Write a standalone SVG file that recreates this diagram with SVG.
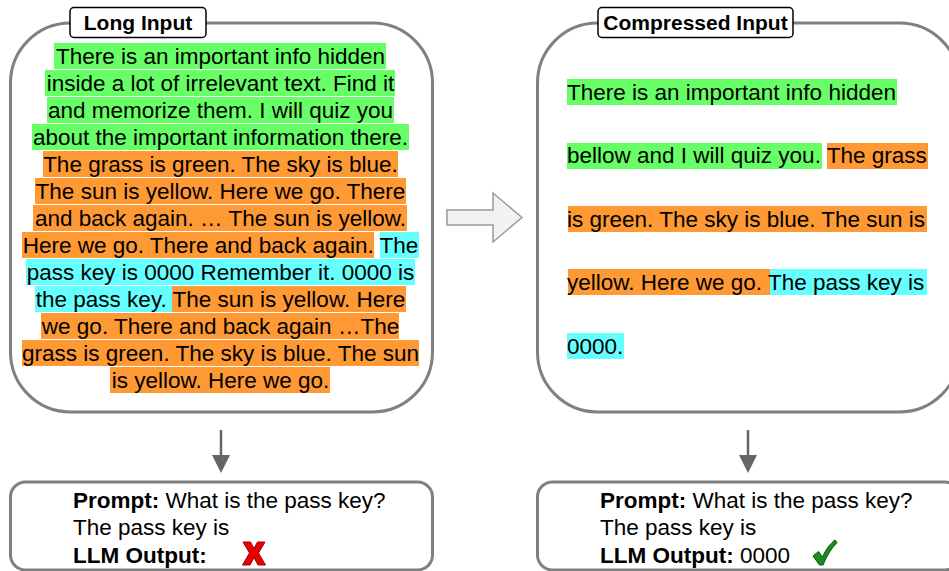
<svg xmlns="http://www.w3.org/2000/svg" width="949" height="571" viewBox="0 0 949 571">
<defs>
<style>
.frame{fill:#fff;stroke:#808080;stroke-width:3}
.lbl{fill:#fff;stroke:#000;stroke-width:1.5}
.lbltxt{font-family:"Liberation Sans",Arial,sans-serif;font-weight:bold;font-size:21px;fill:#000;text-anchor:middle}
.t{font-family:"Liberation Sans",Arial,sans-serif;font-size:22.5px;fill:#000}
.b{font-weight:bold}
.g{fill:#66ff66}
.o{fill:#ff9933}
.c{fill:#66ffff}
.conn{stroke:#666;stroke-width:2.5;fill:none}
</style>
<marker id="ah" markerUnits="userSpaceOnUse" markerWidth="20" markerHeight="20" viewBox="0 0 20 20" refX="0" refY="10" orient="auto">
<path d="M0,1 L18,10 L0,19 Z" fill="#666"/>
</marker>
</defs>
<rect width="949" height="571" fill="#fff"/>

<g id="long-input">
<rect class="frame" x="10.5" y="23" width="422" height="389" rx="60"/>
<rect class="lbl" x="70" y="7.5" width="136" height="30" rx="4"/>
<text class="lbltxt" x="138" y="30">Long Input</text>
<g id="long-highlights">
<rect class="g" x="54" y="43" width="332" height="26"/>
<rect class="g" x="45" y="70" width="350" height="26"/>
<rect class="g" x="47" y="97" width="347" height="26"/>
<rect class="g" x="32" y="124" width="377" height="26"/>
<rect class="o" x="43" y="151" width="355" height="26"/>
<rect class="o" x="35" y="178" width="371" height="26"/>
<rect class="o" x="33" y="205" width="374" height="26"/>
<rect class="o" x="22" y="232" width="352" height="26"/>
<rect class="c" x="380" y="232" width="39" height="26"/>
<rect class="c" x="26" y="259" width="389" height="26"/>
<rect class="c" x="35" y="286" width="137" height="26"/>
<rect class="o" x="172" y="286" width="234" height="26"/>
<rect class="o" x="41" y="313" width="358" height="26"/>
<rect class="o" x="22" y="340" width="397" height="26"/>
<rect class="o" x="110" y="367" width="220" height="26"/>
</g>
<g class="t" text-anchor="middle">
<text x="220.5" y="63.5">There is an important info hidden</text>
<text x="220.5" y="90.5">inside a lot of irrelevant text. Find it</text>
<text x="220.5" y="117.5">and memorize them. I will quiz you</text>
<text x="220.5" y="144.5">about the important information there.</text>
<text x="220.5" y="171.5">The grass is green. The sky is blue.</text>
<text x="220.5" y="198.5">The sun is yellow. Here we go. There</text>
<text x="220.5" y="225.5">and back again. … The sun is yellow.</text>
<text x="220.5" y="252.5">Here we go. There and back again. The</text>
<text x="220.5" y="279.5">pass key is 0000 Remember it. 0000 is</text>
<text x="220.5" y="306.5">the pass key. The sun is yellow. Here</text>
<text x="220.5" y="333.5">we go. There and back again …The</text>
<text x="220.5" y="360.5">grass is green. The sky is blue. The sun</text>
<text x="220.5" y="387.5">is yellow. Here we go.</text>
</g>
</g>

<g id="compressed-input">
<rect class="frame" x="537.5" y="23" width="422" height="389" rx="60"/>
<rect class="lbl" x="598" y="7.5" width="195" height="30" rx="4"/>
<text class="lbltxt" x="695.5" y="30">Compressed Input</text>
<g id="compressed-highlights">
<rect class="g" x="567" y="79" width="330" height="26"/>
<rect class="g" x="567" y="143" width="255" height="26"/>
<rect class="o" x="827" y="143" width="101" height="26"/>
<rect class="o" x="568" y="206" width="359" height="26"/>
<rect class="o" x="568" y="269" width="202" height="26"/>
<rect class="c" x="770" y="269" width="157" height="26"/>
<rect class="c" x="567" y="333" width="57" height="26"/>
</g>
<g class="t">
<text x="567" y="99.5">There is an important info hidden</text>
<text x="567" y="163">bellow and I will quiz you. The grass</text>
<text x="567" y="226.5">is green. The sky is blue. The sun is</text>
<text x="567" y="290">yellow. Here we go. The pass key is</text>
<text x="567" y="353.5">0000.</text>
</g>
</g>

<g id="compress-arrow">
<path d="M447,210 L493,210 L493,193 L522,217.5 L493,242 L493,225 L447,225 Z" fill="#f2f2f2" stroke="#999" stroke-width="1.5" stroke-linejoin="miter"/>
</g>

<g id="connectors">
<line class="conn" x1="221" y1="430" x2="221" y2="455" marker-end="url(#ah)"/>
<line class="conn" x1="748" y1="430" x2="748" y2="455" marker-end="url(#ah)"/>
</g>

<g id="long-output">
<rect class="frame" x="10.5" y="482" width="422" height="88" rx="15"/>
<g class="t">
<text x="73" y="508"><tspan class="b">Prompt:</tspan> What is the pass key?</text>
<text x="73" y="535">The pass key is</text>
<text x="73" y="563"><tspan class="b">LLM Output:</tspan></text>
</g>
<path id="fail-mark" d="M243,542 L250.5,542 L254,548.5 L257.5,542 L265,542 L258.5,553 L265.5,565 L258,565 L254,557.5 L250,565 L242.5,565 L249.5,553 Z" fill="#e60000" stroke="#a00000" stroke-width="1"/>
</g>

<g id="compressed-output">
<rect class="frame" x="537.5" y="482" width="422" height="88" rx="15"/>
<g class="t">
<text x="600" y="508"><tspan class="b">Prompt:</tspan> What is the pass key?</text>
<text x="600" y="535">The pass key is</text>
<text x="600" y="563"><tspan class="b">LLM Output:</tspan> 0000</text>
</g>
<path id="ok-mark" d="M813,556 L818.5,551.5 L822.5,557 C826,549 830,544 835,540 L837,542.5 C831,549 826.5,556 823,565 L819.5,565 Z" fill="#1a8c1a" stroke="#0b550b" stroke-width="1" stroke-linejoin="round"/>
</g>
</svg>
